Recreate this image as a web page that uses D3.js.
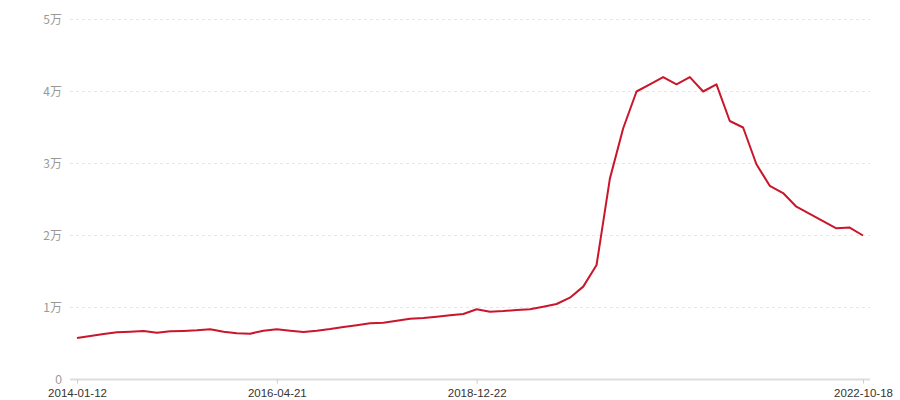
<!DOCTYPE html>
<html>
<head>
<meta charset="utf-8">
<script src="https://cdn.jsdelivr.net/npm/d3@7"></script>
<style>
  html, body { margin: 0; padding: 0; background: #fff; }
  #chart { width: 900px; height: 400px; }
  text { font-family: "Noto Sans CJK SC", "Noto Sans", sans-serif; }
</style>
</head>
<body>
<div id="chart"></div>
<script>
// 日期(类目)
const dates = [
  '2014-01-12','2014-03-08','2014-05-02','2014-06-26','2014-08-20','2014-10-14','2014-12-08','2015-02-01','2015-03-28','2015-05-22',
  '2015-07-16','2015-09-09','2015-11-03','2015-12-28','2016-02-25','2016-04-21','2016-06-25','2016-08-29','2016-11-02','2017-01-06',
  '2017-03-12','2017-05-16','2017-07-20','2017-09-23','2017-11-27','2018-01-31','2018-04-06','2018-06-10','2018-08-14','2018-10-18',
  '2018-12-22','2019-02-08','2019-03-28','2019-05-15','2019-07-02','2019-08-19','2019-10-06','2019-11-23','2020-01-10','2020-02-27',
  '2020-04-15','2020-06-02','2020-07-20','2020-09-06','2020-10-24','2020-12-11','2021-01-28','2021-03-17','2021-05-04','2021-06-21',
  '2021-08-08','2021-09-25','2021-11-12','2021-12-30','2022-02-16','2022-04-05','2022-05-23','2022-07-10','2022-08-27','2022-10-18'
];
// 数值
const values = [
  5760, 6040, 6320, 6550, 6640, 6740, 6500, 6690, 6740, 6830,
  6970, 6640, 6410, 6360, 6780, 6990, 6780, 6600, 6780, 7010,
  7290, 7530, 7800, 7890, 8170, 8450, 8540, 8720, 8920, 9100,
  9750, 9420, 9510, 9650, 9750, 10100, 10490, 11360, 12900, 15900,
  27900, 34900, 40000, 41000, 42000, 41000, 42000, 40000, 41000, 35900,
  35000, 29900, 26900, 25900, 24000, 23000, 22000, 21000, 21100, 20000
];
// 刻度
const yTicks = [0, 10000, 20000, 30000, 40000, 50000];
const xTickLabels = ['2014-01-12', '2016-04-21', '2018-12-22', '2022-10-18'];

let width = 900, height = 400;
let padLeft = 70, padRight = 870, padTop = 19.5, padBottom = 379.5;

var svg = d3.select('#chart').append('svg')
            .attr('width', width).attr('height', height);

let x = d3.scalePoint().domain(dates).range([77, 863]);
let y = d3.scaleLinear().domain([0, 50000]).range([padBottom, padTop]);

//网格线
svg.append('g')
   .selectAll('line')
   .data(yTicks.filter(d => d > 0))
   .enter().append('line')
   .attr('x1', padLeft).attr('x2', padRight)
   .attr('y1', d => y(d)).attr('y2', d => y(d))
   .attr('stroke', '#e6e6e6')
   .attr('stroke-width', 1)
   .attr('stroke-dasharray', '3,3');

//y轴文字
svg.append('g')
   .selectAll('text')
   .data(yTicks)
   .enter().append('text')
   .attr('x', 62)
   .attr('y', d => y(d))
   .attr('dy', '0.35em')
   .attr('text-anchor', 'end')
   .style('font-size', '12px')
   .style('font-family', d => d === 0 ? '"Liberation Sans", sans-serif' : null)
   .style('fill', '#999')
   .text(d => d === 0 ? '0' : (d / 10000) + '万');

//x轴
var xAxis = svg.append('g')
   .attr('transform', `translate(0,${padBottom})`)
   .call(d3.axisBottom(x).tickValues(xTickLabels).tickSize(4).tickSizeOuter(0));
xAxis.select('.domain').remove();
xAxis.insert('line', ':first-child')
   .attr('x1', padLeft).attr('x2', padRight)
   .attr('stroke', '#ddd').attr('stroke-width', 2);
xAxis.selectAll('.tick line').attr('stroke', '#ccc');
xAxis.selectAll('.tick text')
   .attr('y', 9)
   .style('font-size', '11.5px')
   .style('font-family', '"Liberation Sans", Arial, sans-serif')
   .style('fill', '#333');

//折线
let line = d3.line()
   .x((d, i) => x(dates[i]))
   .y(d => y(d));

svg.append('path')
   .datum(values)
   .attr('fill', 'none')
   .attr('stroke', '#c9162b')
   .attr('stroke-width', 2)
   .attr('stroke-linejoin', 'round')
   .attr('d', line);
</script>
</body>
</html>
